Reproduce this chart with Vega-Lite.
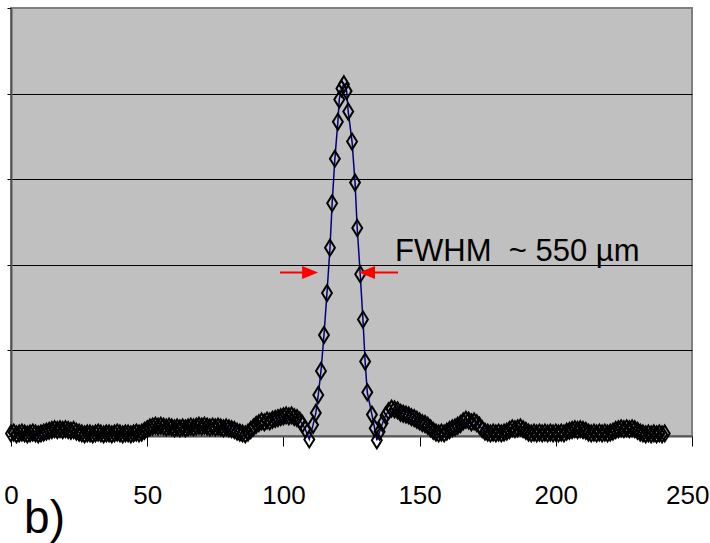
{
  "$schema": "https://vega.github.io/schema/vega-lite/v6.json",
  "width": 681,
  "height": 428,
  "autosize": {"type": "none"},
  "padding": {"left": 11, "top": 8, "right": 18, "bottom": 107},
  "background": "white",
  "config": {"view": {"fill": "#C0C0C0", "stroke": "#808080", "strokeWidth": 2}},
  "datasets": {
    "profile": [
      {"x":0,"y":0.03},{"x":1,"y":0.04},{"x":2,"y":0.02},{"x":3,"y":0.03},{"x":4,"y":0.04},{"x":5,"y":0.03},{"x":6,"y":0.02},{"x":7,"y":0.03},{"x":8,"y":0.04},{"x":9,"y":0.03},
      {"x":10,"y":0.02},{"x":11,"y":0.03},{"x":12,"y":0.04},{"x":13,"y":0.05},{"x":14,"y":0.06},{"x":15,"y":0.07},{"x":16,"y":0.08},{"x":17,"y":0.07},{"x":18,"y":0.08},{"x":19,"y":0.07},
      {"x":20,"y":0.08},{"x":21,"y":0.07},{"x":22,"y":0.06},{"x":23,"y":0.07},{"x":24,"y":0.05},{"x":25,"y":0.04},{"x":26,"y":0.03},{"x":27,"y":0.02},{"x":28,"y":0.03},{"x":29,"y":0.03},
      {"x":30,"y":0.02},{"x":31,"y":0.03},{"x":32,"y":0.04},{"x":33,"y":0.03},{"x":34,"y":0.02},{"x":35,"y":0.03},{"x":36,"y":0.03},{"x":37,"y":0.02},{"x":38,"y":0.03},{"x":39,"y":0.04},
      {"x":40,"y":0.03},{"x":41,"y":0.02},{"x":42,"y":0.03},{"x":43,"y":0.03},{"x":44,"y":0.02},{"x":45,"y":0.03},{"x":46,"y":0.04},{"x":47,"y":0.03},{"x":48,"y":0.04},{"x":49,"y":0.06},
      {"x":50,"y":0.08},{"x":51,"y":0.10},{"x":52,"y":0.11},{"x":53,"y":0.12},{"x":54,"y":0.11},{"x":55,"y":0.12},{"x":56,"y":0.11},{"x":57,"y":0.10},{"x":58,"y":0.11},{"x":59,"y":0.10},
      {"x":60,"y":0.09},{"x":61,"y":0.10},{"x":62,"y":0.09},{"x":63,"y":0.10},{"x":64,"y":0.09},{"x":65,"y":0.10},{"x":66,"y":0.11},{"x":67,"y":0.10},{"x":68,"y":0.11},{"x":69,"y":0.12},
      {"x":70,"y":0.11},{"x":71,"y":0.12},{"x":72,"y":0.11},{"x":73,"y":0.10},{"x":74,"y":0.11},{"x":75,"y":0.10},{"x":76,"y":0.11},{"x":77,"y":0.10},{"x":78,"y":0.09},{"x":79,"y":0.10},
      {"x":80,"y":0.09},{"x":81,"y":0.08},{"x":82,"y":0.07},{"x":83,"y":0.05},{"x":84,"y":0.04},{"x":85,"y":0.03},{"x":86,"y":0.02},{"x":87,"y":0.04},{"x":88,"y":0.07},{"x":89,"y":0.10},
      {"x":90,"y":0.13},{"x":91,"y":0.15},{"x":92,"y":0.17},{"x":93,"y":0.16},{"x":94,"y":0.18},{"x":95,"y":0.17},{"x":96,"y":0.19},{"x":97,"y":0.20},{"x":98,"y":0.21},{"x":99,"y":0.22},
      {"x":100,"y":0.23},{"x":101,"y":0.24},{"x":102,"y":0.23},{"x":103,"y":0.24},{"x":104,"y":0.22},{"x":105,"y":0.21},{"x":106,"y":0.18},{"x":107,"y":0.14},{"x":108,"y":0.08},
      {"x":109.5,"y":-0.04},{"x":110.9,"y":0.13},{"x":111.9,"y":0.27},{"x":112.8,"y":0.48},{"x":113.8,"y":0.76},{"x":114.9,"y":1.18},{"x":116.0,"y":1.67},{"x":117.1,"y":2.20},{"x":117.9,"y":2.72},{"x":118.9,"y":3.24},
      {"x":120.0,"y":3.67},{"x":120.5,"y":3.93},{"x":121.3,"y":4.06},{"x":122.2,"y":4.11},{"x":123.2,"y":4.03},{"x":123.8,"y":3.79},{"x":125.2,"y":3.44},{"x":126.3,"y":2.96},{"x":127.1,"y":2.43},{"x":128.2,"y":1.89},
      {"x":129.2,"y":1.36},{"x":130.0,"y":0.87},{"x":130.8,"y":0.51},{"x":132.5,"y":0.25},{"x":133.5,"y":0.09},{"x":134.3,"y":-0.05},
      {"x":135.3,"y":0.05},{"x":136.4,"y":0.15},{"x":137.5,"y":0.24},{"x":138.6,"y":0.29},{"x":139.7,"y":0.32},{"x":140.8,"y":0.31},{"x":141.9,"y":0.30},{"x":143,"y":0.27},{"x":144,"y":0.26},
      {"x":145,"y":0.25},{"x":146,"y":0.24},{"x":147,"y":0.22},{"x":148,"y":0.21},{"x":149,"y":0.19},{"x":150,"y":0.17},{"x":151,"y":0.15},{"x":152,"y":0.14},{"x":153,"y":0.12},{"x":154,"y":0.09},
      {"x":155,"y":0.06},{"x":156,"y":0.04},{"x":157,"y":0.03},{"x":158,"y":0.04},{"x":159,"y":0.03},{"x":160,"y":0.05},{"x":161,"y":0.07},{"x":162,"y":0.09},{"x":163,"y":0.10},{"x":164,"y":0.12},
      {"x":165,"y":0.14},{"x":166,"y":0.17},{"x":167,"y":0.19},{"x":168,"y":0.18},{"x":169,"y":0.16},{"x":170,"y":0.17},{"x":171,"y":0.15},{"x":172,"y":0.12},{"x":173,"y":0.08},{"x":174,"y":0.05},
      {"x":175,"y":0.04},{"x":176,"y":0.03},{"x":177,"y":0.04},{"x":178,"y":0.03},{"x":179,"y":0.04},{"x":180,"y":0.03},{"x":181,"y":0.04},{"x":182,"y":0.05},{"x":183,"y":0.07},{"x":184,"y":0.09},
      {"x":185,"y":0.08},{"x":186,"y":0.09},{"x":187,"y":0.10},{"x":188,"y":0.08},{"x":189,"y":0.06},{"x":190,"y":0.04},{"x":191,"y":0.03},{"x":192,"y":0.04},{"x":193,"y":0.03},{"x":194,"y":0.04},
      {"x":195,"y":0.03},{"x":196,"y":0.04},{"x":197,"y":0.03},{"x":198,"y":0.04},{"x":199,"y":0.03},{"x":200,"y":0.04},{"x":201,"y":0.03},{"x":202,"y":0.04},{"x":203,"y":0.03},{"x":204,"y":0.05},
      {"x":205,"y":0.06},{"x":206,"y":0.07},{"x":207,"y":0.08},{"x":208,"y":0.07},{"x":209,"y":0.08},{"x":210,"y":0.07},{"x":211,"y":0.06},{"x":212,"y":0.04},{"x":213,"y":0.03},{"x":214,"y":0.04},
      {"x":215,"y":0.03},{"x":216,"y":0.04},{"x":217,"y":0.03},{"x":218,"y":0.04},{"x":219,"y":0.03},{"x":220,"y":0.04},{"x":221,"y":0.05},{"x":222,"y":0.07},{"x":223,"y":0.08},{"x":224,"y":0.09},
      {"x":225,"y":0.08},{"x":226,"y":0.09},{"x":227,"y":0.08},{"x":228,"y":0.09},{"x":229,"y":0.08},{"x":230,"y":0.06},{"x":231,"y":0.04},{"x":232,"y":0.03},{"x":233,"y":0.02},{"x":234,"y":0.03},
      {"x":235,"y":0.02},{"x":236,"y":0.03},{"x":237,"y":0.02},{"x":238,"y":0.03},{"x":239,"y":0.02},{"x":240,"y":0.03}
    ],
    "shafts": [
      {"x": 98.75, "x2": 108.5, "y": 1.91},
      {"x": 131.5, "x2": 142.1, "y": 1.91}
    ],
    "heads": [
      {"x": 109.8, "y": 1.91, "dir": "right"},
      {"x": 130.7, "y": 1.91, "dir": "left"}
    ],
    "notes": [
      {"x": 141, "y": 2.05, "label": "FWHM\u00a0\u00a0~ 550 µm", "kind": "fwhm"},
      {"x": 4.8, "y": -1.136, "label": "b)", "kind": "panel"}
    ]
  },
  "encoding": {
    "x": {
      "field": "x", "type": "quantitative",
      "scale": {"domain": [0, 250], "nice": false, "zero": false},
      "axis": {
        "title": null, "values": [0, 50, 100, 150, 200, 250], "grid": false,
        "tickColor": "black", "tickSize": 10, "tickWidth": 1,
        "domainColor": "#555555", "domainWidth": 2,
        "labelFont": "Liberation Sans, Arial, sans-serif",
        "labelFontSize": 26, "labelColor": "black", "labelBaseline": "alphabetic",
        "labelPadding": 57, "labelFlush": false, "labelOverlap": false,
        "labelAlign": {"condition": {"test": "datum.value == 250", "value": "right"}, "value": "center"},
        "labelOffset": {"condition": {"test": "datum.value == 250", "value": 17}, "value": 0}
      }
    },
    "y": {
      "field": "y", "type": "quantitative",
      "scale": {"domain": [0, 5], "nice": false, "zero": false},
      "axis": {
        "title": null, "values": [0, 1, 2, 3, 4, 5], "labels": false,
        "tickColor": "black", "tickSize": 4, "tickWidth": 1,
        "domainColor": "#555555", "domainWidth": 2,
        "grid": true, "gridColor": "black", "gridWidth": 1,
        "gridOpacity": {"condition": {"test": "datum.value == 0 || datum.value == 5", "value": 0}, "value": 1}
      }
    }
  },
  "layer": [
    {
      "data": {"name": "profile"},
      "mark": {"type": "line", "color": "#000080", "strokeWidth": 1.5}
    },
    {
      "data": {"name": "profile"},
      "mark": {"type": "point", "shape": "M0,-1L0.62,0L0,1L-0.62,0Z", "size": 256, "filled": false, "stroke": "black", "strokeWidth": 2, "opacity": 1}
    },
    {
      "data": {"name": "shafts"},
      "mark": {"type": "rule", "color": "#FF0000", "strokeWidth": 2},
      "encoding": {
        "x2": {"field": "x2"}
      }
    },
    {
      "data": {"name": "heads"},
      "mark": {"type": "point", "filled": true, "color": "#FF0000", "size": 256, "opacity": 1, "strokeWidth": 0},
      "encoding": {
        "shape": {"field": "dir", "type": "nominal", "legend": null,
          "scale": {"domain": ["right", "left"], "range": ["M-1,-0.8L1,0L-1,0.8Z", "M1,-0.8L-1,0L1,0.8Z"]}}
      }
    },
    {
      "data": {"name": "notes"},
      "transform": [{"filter": "datum.kind == 'fwhm'"}],
      "mark": {"type": "text", "font": "Liberation Sans, Arial, sans-serif", "fontSize": 31, "color": "black", "align": "left", "baseline": "alphabetic"},
      "encoding": {
        "text": {"field": "label"}
      }
    },
    {
      "data": {"name": "notes"},
      "transform": [{"filter": "datum.kind == 'panel'"}],
      "mark": {"type": "text", "font": "Liberation Sans, Arial, sans-serif", "fontSize": 46, "color": "black", "align": "left", "baseline": "alphabetic"},
      "encoding": {
        "text": {"field": "label"}
      }
    }
  ]
}
